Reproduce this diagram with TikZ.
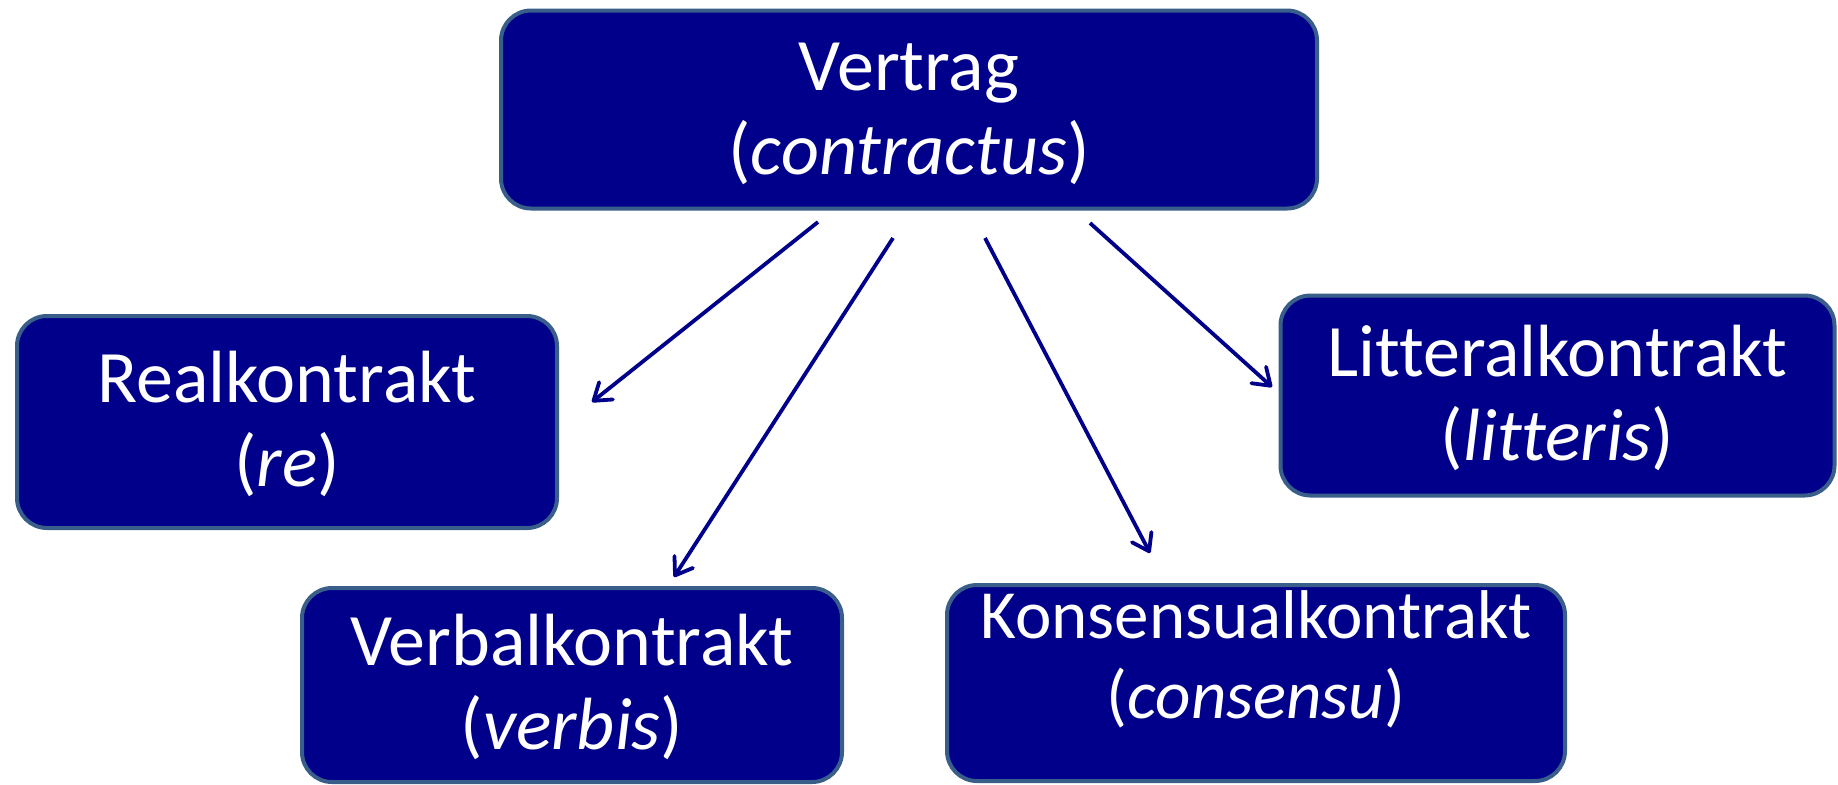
\documentclass[tikz,border=0pt]{standalone}
\usepackage{fontspec}
\setmainfont[Ligatures=CommonOff]{Carlito}
\usetikzlibrary{arrows.meta,calc}

\definecolor{boxfill}{RGB}{0,0,139}
\definecolor{boxrim}{RGB}{58,94,138}
\definecolor{arrowblue}{RGB}{0,0,139}

\tikzset{
  kbox/.style={rectangle, rounded corners=15pt, fill=boxfill, draw=boxrim,
    line width=2pt, inner sep=0pt},
  ktext/.style={text=white, align=center, inner sep=0pt,
    font=\fontsize{37pt}{42pt}\selectfont},
  ksmall/.style={ktext, font=\fontsize{34.5pt}{40pt}\selectfont},
  link/.style={draw=arrowblue, line width=1.9pt,
    -{Straight Barb[length=8pt,width=11pt,line cap=round,line join=round]}}
}

\begin{document}
\begin{tikzpicture}
  \useasboundingbox (0pt,0pt) rectangle (919pt,-392pt);

  % category boxes
  \node[kbox, minimum width=408pt, minimum height=99pt] (vertrag) at (454.5pt,-54.75pt) {};
  \node[kbox, minimum width=270pt, minimum height=106pt] (real) at (143.5pt,-211pt) {};
  \node[kbox, minimum width=270pt, minimum height=97pt] (verbal) at (286pt,-342.5pt) {};
  \node[kbox, minimum width=309pt, minimum height=98pt] (konsens) at (628pt,-341.5pt) {};
  \node[kbox, minimum width=277pt, minimum height=100pt] (litteral) at (778.75pt,-197.75pt) {};

  % box captions
  \node[ktext] (vertragT) at ([yshift=-2pt]vertrag.center) {Vertrag\\(\textit{contractus})};
  \node[ktext] (realT) at ([yshift=-1pt]real.center) {Realkontrakt\\(\textit{re})};
  \node[ktext] (verbalT) at ([yshift=-1pt]verbal.center) {Verbalkontrakt\\(\textit{verbis})};
  \node[ksmall] (konsensT) at ([yshift=12pt]konsens.center) {Konsensualkontrakt\\(\textit{consensu})};
  \node[ktext] (litteralT) at ([yshift=-1pt]litteral.center) {Litteralkontrakt\\(\textit{litteris})};

  % arrow ends, floating between the boxes
  \coordinate (s1) at (409pt,-111pt);
  \coordinate (e1) at (296pt,-201pt);
  \coordinate (s2) at (446.5pt,-119pt);
  \coordinate (e2) at (337pt,-288.5pt);
  \coordinate (s3) at (492.5pt,-119pt);
  \coordinate (e3) at (575pt,-276.5pt);
  \coordinate (s4) at (545pt,-111.5pt);
  \coordinate (e4) at (636pt,-193.5pt);

  \draw[link] (s1) -- (e1);
  \draw[link] (s2) -- (e2);
  \draw[link] (s3) -- (e3);
  \draw[link] (s4) -- (e4);
\end{tikzpicture}
\end{document}
